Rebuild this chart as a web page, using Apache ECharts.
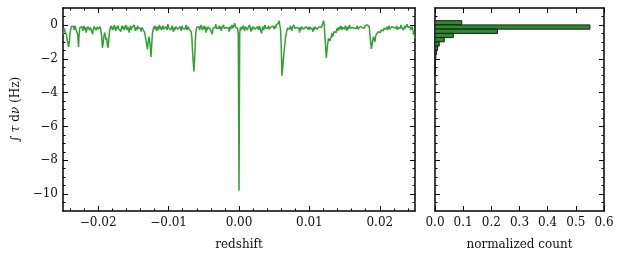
<!DOCTYPE html>
<html><head><meta charset="utf-8">
<script src="https://cdn.jsdelivr.net/npm/echarts@6/dist/echarts.min.js"></script>
<style>html,body{margin:0;padding:0;background:#fff}#c{width:623px;height:259px}</style>
</head><body><div id="c"></div><script>
// sampling grid of the redshift axis
const zStart = -0.025, zStep = 0.0001;
// integrated optical depth (Hz), one value per sample
const tauIntegral = [
-0.55,-0.35,-0.2,-0.4,-0.3,-0.6,-0.9,-1.1,-1.3,-1.0,
-0.5,-0.25,-0.1,0.0,-0.2,-0.1,-0.3,-0.05,-0.2,-0.15,
-0.3,-0.6,-1.3,-0.5,-0.15,-0.05,-0.25,-0.1,-0.35,-0.2,
-0.05,-0.3,-0.15,-0.45,-0.25,-0.1,-0.2,0.0,-0.3,-0.15,
-0.25,-0.4,-0.55,-0.3,-0.1,-0.2,-0.05,-0.3,-0.2,-0.1,
-0.25,-0.15,-0.3,-0.1,-0.4,-0.7,-1.35,-1.1,-0.7,-0.45,
-0.6,-0.9,-0.75,-1.2,-1.35,-0.9,-0.4,-0.2,-0.05,-0.25,
-0.1,-0.3,-0.15,0.0,-0.2,-0.35,-0.1,-0.25,-0.05,-0.2,
-0.3,-0.15,-0.4,-0.2,-0.05,-0.25,-0.1,-0.3,-0.2,0.0,
-0.15,-0.3,-0.1,-0.25,-0.45,-0.2,-0.05,-0.3,-0.15,-0.25,
-0.1,0.0,-0.2,-0.35,-0.15,-0.3,-0.05,-0.2,-0.1,-0.3,
-0.2,-0.4,-0.15,-0.25,-0.3,-0.2,-0.45,-0.7,-0.95,-1.2,
-1.45,-1.0,-0.7,-0.9,-1.3,-1.9,-1.2,-0.5,-0.3,-0.1,
-0.25,-0.05,-0.2,-0.35,-0.1,-0.3,-0.15,0.0,-0.25,-0.1,
-0.3,-0.2,-0.05,-0.25,-0.15,-0.35,-0.1,-0.2,-0.3,0.05,
-0.15,-0.25,-0.1,-0.3,-0.2,-0.05,-0.25,-0.4,-0.15,-0.3,
-0.1,-0.2,0.0,-0.25,-0.15,-0.3,-0.1,-0.2,-0.35,-0.05,
-0.2,-0.3,-0.1,-0.25,-0.15,0.0,-0.3,-0.2,-0.1,-0.25,
-0.15,-0.3,-0.4,-0.7,-1.6,-2.2,-2.75,-2.0,-0.9,-0.35,
-0.15,-0.05,-0.25,-0.1,-0.3,-0.2,0.0,-0.15,-0.3,-0.1,
-0.25,-0.05,-0.2,-0.45,-0.15,-0.3,-0.1,-0.2,-0.05,-0.25,
-0.35,-0.15,-0.55,-0.2,-0.1,-0.3,-0.15,0.05,-0.2,-0.1,
-0.3,-0.2,-0.05,-0.25,-0.1,-0.35,-0.15,-0.25,0.0,-0.2,
-0.1,-0.3,-0.15,-0.25,-0.05,-0.2,-0.4,-0.1,-0.25,-0.15,
0.0,-0.2,-0.3,-0.1,0.1,-0.15,-0.25,-0.05,-0.2,-0.6,
-9.8,-0.5,-0.15,-0.3,-0.1,-0.25,-0.05,-0.2,-0.35,-0.1,
-0.2,-0.05,-0.3,-0.15,-0.25,0.0,-0.2,-0.4,-0.15,-0.3,
-0.1,-0.2,-0.05,-0.25,-0.15,-0.35,-0.1,-0.2,-0.3,-0.05,
-0.2,-0.15,-0.5,-0.25,-0.1,-0.3,-0.15,0.0,-0.2,-0.1,
-0.3,-0.2,-0.05,-0.25,-0.15,-0.3,-0.1,0.0,-0.2,-0.1,
-0.25,-0.05,-0.2,0.0,-0.1,0.05,0.1,0.25,0.15,-0.3,
-1.2,-3.0,-2.6,-2.05,-1.6,-1.2,-0.8,-0.5,-0.35,-0.2,
-0.3,-0.1,-0.25,-0.05,-0.2,-0.35,-0.15,-0.25,0.0,-0.2,
-0.1,-0.3,-0.15,-0.25,-0.05,-0.2,-0.45,-0.15,-0.3,-0.1,
-0.2,-0.05,-0.25,-0.15,-0.3,-0.1,-0.2,0.0,-0.25,-0.1,
-0.3,-0.15,-0.2,-0.05,-0.25,-0.4,-0.15,-0.3,-0.1,-0.2,
-0.05,-0.25,-0.15,-0.3,-0.1,-0.2,0.0,-0.15,-0.05,0.1,
0.25,0.05,-0.6,-1.3,-1.95,-1.5,-1.1,-0.8,-0.7,-0.95,
-1.0,-0.7,-0.5,-0.7,-0.55,-0.4,-0.5,-0.3,-0.45,-0.2,
-0.35,-0.15,-0.3,-0.1,-0.25,-0.05,-0.3,-0.15,-0.2,-0.1,
-0.25,-0.05,-0.2,-0.35,-0.1,-0.25,-0.15,0.0,-0.2,-0.1,
-0.3,-0.15,-0.25,-0.05,-0.2,-0.3,-0.1,-0.2,-0.05,-0.25,
-0.15,-0.3,-0.1,-0.2,0.0,-0.15,-0.25,-0.1,-0.2,-0.05,
-0.15,-0.05,0.0,-0.1,0.08,-0.1,-0.6,-1.0,-1.42,-1.2,
-0.9,-0.7,-0.85,-1.0,-0.7,-0.55,-0.65,-0.5,-0.4,-0.5,
-0.35,-0.45,-0.3,-0.4,-0.25,-0.35,-0.2,-0.3,-0.15,-0.25,
-0.1,-0.3,-0.2,-0.05,-0.25,-0.15,-0.3,-0.1,-0.2,0.0,
-0.15,-0.25,-0.1,-0.2,-0.05,-0.3,-0.15,-0.25,-0.1,-0.2,
0.0,-0.15,-0.25,-0.1,-0.3,-0.05,-0.2,-0.1,-0.25,0.05,
-0.15,-0.05,-0.2,-0.1,-0.3,-0.2,-0.1,-0.3,-0.45,-0.6,
-0.8
];
// histogram: upper edge of each bin, bin width, normalized counts
const histBinTop = [0.25, 0, -0.25, -0.5, -0.75, -1.0, -1.25, -1.5, -1.75, -2.0, -2.25, -2.5, -2.75];
const histBinWidth = 0.25;
const histCounts = [0.095, 0.55, 0.222, 0.065, 0.033, 0.015, 0.009, 0.005, 0.003, 0.002, 0.001, 0.001, 0.001];
// tick labels
const xTickValues = [-0.02, -0.01, 0, 0.01, 0.02];
const yTickValues = [0, -2, -4, -6, -8, -10];
const histTickValues = [0, 0.1, 0.2, 0.3, 0.4, 0.5, 0.6];

const FONT = 'DejaVu Serif';
const minus = s => s.replace('-', '\u2212');
const lineData = tauIntegral.map((v, i) => [zStart + i * zStep, v]);
const histData = histBinTop.map((t, i) => [t - histBinWidth, t, histCounts[i]]);

function ax(o) {
  return Object.assign({
    type: 'value',
    axisLine: { show: true, onZero: false, lineStyle: { color: '#000', width: 1.5 } },
    axisTick: { show: true, inside: true, length: 5, customValues: o.ticks, lineStyle: { color: '#000', width: 1 } },
    minorTick: { show: o.minor > 0, splitNumber: o.minor || 5, length: 2.5, lineStyle: { color: '#000', width: 1 } },
    splitLine: { show: false },
    axisLabel: { show: !!o.labels, customValues: o.ticks, formatter: o.fmt, color: '#111', fontFamily: FONT, fontSize: 12, margin: o.margin || 6 },
    nameTextStyle: { color: '#111', fontFamily: FONT, fontSize: 12 }
  }, o.extra);
}

const chart = echarts.init(document.getElementById('c'), null, { renderer: 'canvas' });
chart.setOption({
  animation: false,
  backgroundColor: '#fff',
  grid: [
    { left: 63, top: 8, width: 352, height: 203, containLabel: false, outerBoundsMode: 'none' },
    { left: 435, top: 8, width: 169, height: 203, containLabel: false, outerBoundsMode: 'none' }
  ],
  xAxis: [
    ax({ ticks: xTickValues, minor: 5, labels: true, fmt: v => minus(v.toFixed(2)), extra: { gridIndex: 0, position: 'bottom', min: -0.025, max: 0.025, splitNumber: 5, name: 'redshift', nameLocation: 'middle', nameGap: 28 } }),
    ax({ ticks: xTickValues, minor: 5, labels: false, extra: { gridIndex: 0, position: 'top', min: -0.025, max: 0.025, splitNumber: 5 } }),
    ax({ ticks: histTickValues, minor: 0, labels: true, fmt: v => v.toFixed(1), extra: { gridIndex: 1, position: 'bottom', min: 0, max: 0.6, splitNumber: 6, name: 'normalized count', nameLocation: 'middle', nameGap: 28 } }),
    ax({ ticks: histTickValues, minor: 0, labels: false, extra: { gridIndex: 1, position: 'top', min: 0, max: 0.6, splitNumber: 6 } })
  ],
  yAxis: [
    ax({ ticks: yTickValues, minor: 4, labels: true, margin: 5, fmt: v => minus(String(v)), extra: { gridIndex: 0, position: 'left', min: -11, max: 1, splitNumber: 6,
      name: '\u222B {it|\u03C4} d{it|\u03BD} (Hz)', nameLocation: 'middle', nameGap: 41,
      nameTextStyle: { color: '#111', fontFamily: FONT, fontSize: 12, rich: { it: { fontStyle: 'italic', fontFamily: FONT, fontSize: 12, color: '#111' } } } } }),
    ax({ ticks: yTickValues, minor: 4, labels: false, extra: { gridIndex: 0, position: 'right', min: -11, max: 1, splitNumber: 6 } }),
    ax({ ticks: yTickValues, minor: 4, labels: false, extra: { gridIndex: 1, position: 'left', min: -11, max: 1, splitNumber: 6 } }),
    ax({ ticks: yTickValues, minor: 4, labels: false, extra: { gridIndex: 1, position: 'right', min: -11, max: 1, splitNumber: 6 } })
  ],
  series: [
    { type: 'line', xAxisIndex: 0, yAxisIndex: 0, data: lineData, showSymbol: false, symbol: 'none',
      lineStyle: { color: '#33a033', width: 1.5 }, z: 3 },
    { type: 'custom', xAxisIndex: 2, yAxisIndex: 2, data: histData, encode: { x: 2, y: [0, 1] },
      renderItem: (params, api) => {
        const lo = api.value(0), hi = api.value(1), c = api.value(2);
        const p0 = api.coord([0, hi]);
        const p1 = api.coord([c, lo]);
        return { type: 'rect', shape: { x: p0[0], y: p0[1], width: p1[0] - p0[0], height: p1[1] - p0[1] },
          style: { fill: '#2a8c2a', stroke: '#1a1a1a', lineWidth: 1 } };
      }, z: 3 }
  ]
});
</script></body></html>
